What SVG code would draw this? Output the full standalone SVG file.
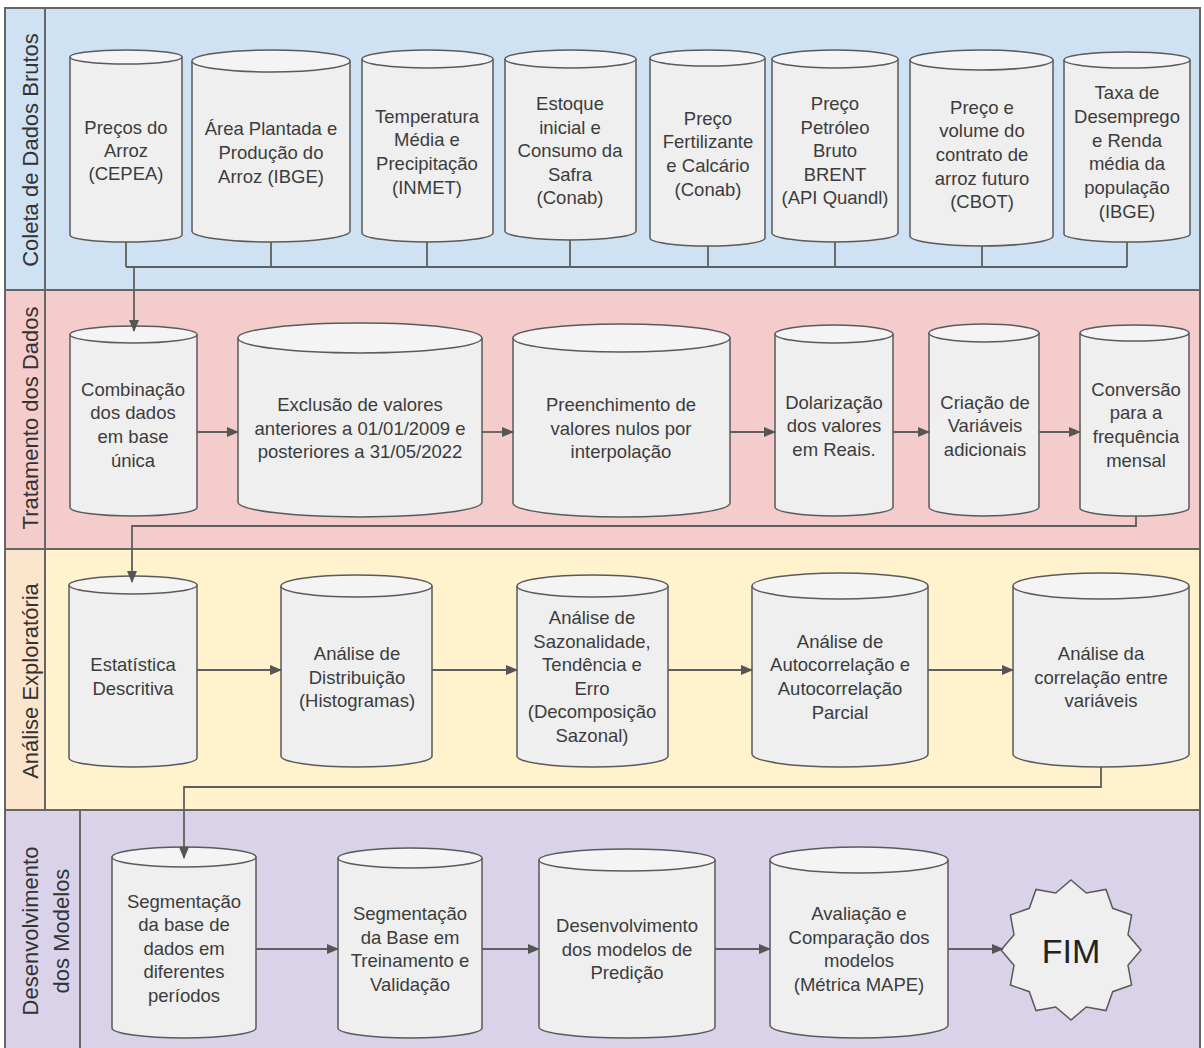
<svg xmlns="http://www.w3.org/2000/svg" width="1204" height="1048" viewBox="0 0 1204 1048">
<style>
.lane{stroke:#666;stroke-width:2}
.cyl{fill:#efefef;stroke:#5a5a5a;stroke-width:1.5}
.top{fill:#f4f4f4;stroke:#5a5a5a;stroke-width:1.5}
.t{font-family:"Liberation Sans",Arial,sans-serif;font-size:18.5px;fill:#3c3c3c;text-anchor:middle;dominant-baseline:central}
.lbl{font-family:"Liberation Sans",Arial,sans-serif;font-size:22px;fill:#333;text-anchor:middle;dominant-baseline:central}
.c{fill:none;stroke:#5f5f5f;stroke-width:1.8}
.a{fill:none;stroke:#5f5f5f;stroke-width:1.8;marker-end:url(#ah)}
</style>
<defs>
<marker id="ah" markerUnits="userSpaceOnUse" markerWidth="12" markerHeight="10" refX="11" refY="5" orient="auto">
<path d="M0,0 L12,5 L0,10 z" fill="#555"/>
</marker>
</defs>

<g id="lanes">
<rect class="lane" x="5" y="8" width="1195" height="282" fill="#cfe2f3"/>
<rect class="lane" x="5" y="290" width="1195" height="259" fill="#f4cccc"/>
<rect class="lane" x="5" y="549" width="1195" height="261" fill="#fff2cc"/>
<rect class="lane" x="5" y="549" width="40" height="261" fill="#fce5cd"/>
<rect class="lane" x="5" y="810" width="1195" height="245" fill="#d9d2e9"/>
<line class="lane" x1="45" y1="8" x2="45" y2="810"/>
<line class="lane" x1="80" y1="810" x2="80" y2="1048"/>
<text class="lbl" transform="translate(30,150) rotate(-90)">Coleta de Dados Brutos</text>
<text class="lbl" transform="translate(30,418) rotate(-90)">Tratamento dos Dados</text>
<text class="lbl" transform="translate(30,681) rotate(-90)">Análise Exploratória</text>
<text class="lbl" transform="translate(30,931) rotate(-90)">Desenvolvimento</text>
<text class="lbl" transform="translate(61,931) rotate(-90)">dos Modelos</text>
</g>

<g id="n1">
<path class="cyl" d="M70,57 V235 A56,7 0 0 0 182,235 V57"/><ellipse class="top" cx="126" cy="57" rx="56" ry="7"/>
<text class="t"><tspan x="126" y="127">Preços do</tspan><tspan x="126" y="150">Arroz</tspan><tspan x="126" y="173">(CEPEA)</tspan></text>
</g>
<g id="n2">
<path class="cyl" d="M192,61 V231 A79,11 0 0 0 350,231 V61"/><ellipse class="top" cx="271" cy="61" rx="79" ry="11"/>
<text class="t"><tspan x="271" y="128">Área Plantada e</tspan><tspan x="271" y="152">Produção do</tspan><tspan x="271" y="176">Arroz (IBGE)</tspan></text>
</g>
<g id="n3">
<path class="cyl" d="M362,59 V233 A65.5,9 0 0 0 493,233 V59"/><ellipse class="top" cx="427.5" cy="59" rx="65.5" ry="9"/>
<text class="t"><tspan x="427" y="116">Temperatura</tspan><tspan x="427" y="139">Média e</tspan><tspan x="427" y="163">Precipitação</tspan><tspan x="427" y="187">(INMET)</tspan></text>
</g>
<g id="n4">
<path class="cyl" d="M505,59 V231 A65.5,9 0 0 0 636,231 V59"/><ellipse class="top" cx="570.5" cy="59" rx="65.5" ry="9"/>
<text class="t"><tspan x="570" y="103">Estoque</tspan><tspan x="570" y="127">inicial e</tspan><tspan x="570" y="150">Consumo da</tspan><tspan x="570" y="174">Safra</tspan><tspan x="570" y="197">(Conab)</tspan></text>
</g>
<g id="n5">
<path class="cyl" d="M650,58 V238 A57.5,8 0 0 0 765,238 V58"/><ellipse class="top" cx="707.5" cy="58" rx="57.5" ry="8"/>
<text class="t"><tspan x="708" y="118">Preço</tspan><tspan x="708" y="141">Fertilizante</tspan><tspan x="708" y="165">e Calcário</tspan><tspan x="708" y="189">(Conab)</tspan></text>
</g>
<g id="n6">
<path class="cyl" d="M772,59 V233 A63,9 0 0 0 898,233 V59"/><ellipse class="top" cx="835" cy="59" rx="63" ry="9"/>
<text class="t"><tspan x="835" y="103">Preço</tspan><tspan x="835" y="127">Petróleo</tspan><tspan x="835" y="150">Bruto</tspan><tspan x="835" y="174">BRENT</tspan><tspan x="835" y="197">(API Quandl)</tspan></text>
</g>
<g id="n7">
<path class="cyl" d="M910,60 V236 A71.5,10 0 0 0 1053,236 V60"/><ellipse class="top" cx="981.5" cy="60" rx="71.5" ry="10"/>
<text class="t"><tspan x="982" y="107">Preço e</tspan><tspan x="982" y="130">volume do</tspan><tspan x="982" y="154">contrato de</tspan><tspan x="982" y="178">arroz futuro</tspan><tspan x="982" y="201">(CBOT)</tspan></text>
</g>
<g id="n8">
<path class="cyl" d="M1064,60 V234 A63,8 0 0 0 1190,234 V60"/><ellipse class="top" cx="1127" cy="60" rx="63" ry="8"/>
<text class="t"><tspan x="1127" y="92">Taxa de</tspan><tspan x="1127" y="116">Desemprego</tspan><tspan x="1127" y="140">e Renda</tspan><tspan x="1127" y="163">média da</tspan><tspan x="1127" y="187">população</tspan><tspan x="1127" y="211">(IBGE)</tspan></text>
</g>

<g id="n9">
<path class="cyl" d="M70,334.5 V507.5 A63.5,8.5 0 0 0 197,507.5 V334.5"/><ellipse class="top" cx="133.5" cy="334.5" rx="63.5" ry="8.5"/>
<text class="t"><tspan x="133" y="389">Combinação</tspan><tspan x="133" y="412">dos dados</tspan><tspan x="133" y="436">em base</tspan><tspan x="133" y="460">única</tspan></text>
</g>
<g id="n10">
<path class="cyl" d="M238,338 V502 A122,15 0 0 0 482,502 V338"/><ellipse class="top" cx="360" cy="338" rx="122" ry="15"/>
<text class="t"><tspan x="360" y="404">Exclusão de valores</tspan><tspan x="360" y="428">anteriores a 01/01/2009 e</tspan><tspan x="360" y="451">posteriores a 31/05/2022</tspan></text>
</g>
<g id="n11">
<path class="cyl" d="M513,338 V503 A108.5,14 0 0 0 730,503 V338"/><ellipse class="top" cx="621.5" cy="338" rx="108.5" ry="14"/>
<text class="t"><tspan x="621" y="404">Preenchimento de</tspan><tspan x="621" y="428">valores nulos por</tspan><tspan x="621" y="451">interpolação</tspan></text>
</g>
<g id="n12">
<path class="cyl" d="M775,334 V507 A59,9 0 0 0 893,507 V334"/><ellipse class="top" cx="834" cy="334" rx="59" ry="9"/>
<text class="t"><tspan x="834" y="402">Dolarização</tspan><tspan x="834" y="425">dos valores</tspan><tspan x="834" y="449">em Reais.</tspan></text>
</g>
<g id="n13">
<path class="cyl" d="M929,333 V507 A55,9 0 0 0 1039,507 V333"/><ellipse class="top" cx="984" cy="333" rx="55" ry="9"/>
<text class="t"><tspan x="985" y="402">Criação de</tspan><tspan x="985" y="425">Variáveis</tspan><tspan x="985" y="449">adicionais</tspan></text>
</g>
<g id="n14">
<path class="cyl" d="M1080,333 V508 A54.5,8 0 0 0 1189,508 V333"/><ellipse class="top" cx="1134.5" cy="333" rx="54.5" ry="8"/>
<text class="t"><tspan x="1136" y="389">Conversão</tspan><tspan x="1136" y="412">para a</tspan><tspan x="1136" y="436">frequência</tspan><tspan x="1136" y="460">mensal</tspan></text>
</g>

<g id="n15">
<path class="cyl" d="M69,585 V758 A64,9 0 0 0 197,758 V585"/><ellipse class="top" cx="133" cy="585" rx="64" ry="9"/>
<text class="t"><tspan x="133" y="664">Estatística</tspan><tspan x="133" y="688">Descritiva</tspan></text>
</g>
<g id="n16">
<path class="cyl" d="M281,586 V756 A75.5,11 0 0 0 432,756 V586"/><ellipse class="top" cx="356.5" cy="586" rx="75.5" ry="11"/>
<text class="t"><tspan x="357" y="653">Análise de</tspan><tspan x="357" y="677">Distribuição</tspan><tspan x="357" y="700">(Histogramas)</tspan></text>
</g>
<g id="n17">
<path class="cyl" d="M517,586 V756 A75.5,11 0 0 0 668,756 V586"/><ellipse class="top" cx="592.5" cy="586" rx="75.5" ry="11"/>
<text class="t"><tspan x="592" y="617">Análise de</tspan><tspan x="592" y="641">Sazonalidade,</tspan><tspan x="592" y="664">Tendência e</tspan><tspan x="592" y="688">Erro</tspan><tspan x="592" y="711">(Decomposição</tspan><tspan x="592" y="735">Sazonal)</tspan></text>
</g>
<g id="n18">
<path class="cyl" d="M752,586 V754 A88,13 0 0 0 928,754 V586"/><ellipse class="top" cx="840" cy="586" rx="88" ry="13"/>
<text class="t"><tspan x="840" y="641">Análise de</tspan><tspan x="840" y="664">Autocorrelação e</tspan><tspan x="840" y="688">Autocorrelação</tspan><tspan x="840" y="712">Parcial</tspan></text>
</g>
<g id="n19">
<path class="cyl" d="M1013,586 V754 A88,13 0 0 0 1189,754 V586"/><ellipse class="top" cx="1101" cy="586" rx="88" ry="13"/>
<text class="t"><tspan x="1101" y="653">Análise da</tspan><tspan x="1101" y="677">correlação entre</tspan><tspan x="1101" y="700">variáveis</tspan></text>
</g>

<g id="n20">
<path class="cyl" d="M112,857 V1028 A72,10 0 0 0 256,1028 V857"/><ellipse class="top" cx="184" cy="857" rx="72" ry="10"/>
<text class="t"><tspan x="184" y="901">Segmentação</tspan><tspan x="184" y="924">da base de</tspan><tspan x="184" y="948">dados em</tspan><tspan x="184" y="971">diferentes</tspan><tspan x="184" y="995">períodos</tspan></text>
</g>
<g id="n21">
<path class="cyl" d="M338,858 V1028 A72,10 0 0 0 482,1028 V858"/><ellipse class="top" cx="410" cy="858" rx="72" ry="10"/>
<text class="t"><tspan x="410" y="913">Segmentação</tspan><tspan x="410" y="937">da Base em</tspan><tspan x="410" y="960">Treinamento e</tspan><tspan x="410" y="984">Validação</tspan></text>
</g>
<g id="n22">
<path class="cyl" d="M539,860 V1027 A88,11 0 0 0 715,1027 V860"/><ellipse class="top" cx="627" cy="860" rx="88" ry="11"/>
<text class="t"><tspan x="627" y="925">Desenvolvimento</tspan><tspan x="627" y="949">dos modelos de</tspan><tspan x="627" y="972">Predição</tspan></text>
</g>
<g id="n23">
<path class="cyl" d="M770,860 V1025 A89,13 0 0 0 948,1025 V860"/><ellipse class="top" cx="859" cy="860" rx="89" ry="13"/>
<text class="t"><tspan x="859" y="913">Avaliação e</tspan><tspan x="859" y="937">Comparação dos</tspan><tspan x="859" y="960">modelos</tspan><tspan x="859" y="984">(Métrica MAPE)</tspan></text>
</g>
<g id="n24">
<polygon class="cyl" points="1071,880 1086.3,893 1106,889.4 1112.7,908.3 1131.6,915 1128,934.7 1141,950 1128,965.3 1131.6,985 1112.7,991.7 1106,1010.6 1086.3,1007 1071,1020 1055.7,1007 1036,1010.6 1029.3,991.7 1010.4,985 1014,965.3 1001,950 1014,934.7 1010.4,915 1029.3,908.3 1036,889.4 1055.7,893"/>
<text class="t" x="1071" y="951" style="font-size:34px;fill:#222">FIM</text>
</g>

<g id="connectors">
<path class="c" d="M126,242 V267 M271,242 V267 M427,242 V267 M570,240 V267 M708,246 V267 M835,242 V267 M982,246 V267 M1127,242 V267 M126,267 H1127"/>
<path class="a" d="M134,267 V331"/>
<path class="a" d="M197,432 H238"/>
<path class="a" d="M482,432 H513"/>
<path class="a" d="M730,432 H775"/>
<path class="a" d="M893,432 H929"/>
<path class="a" d="M1039,432 H1080"/>
<path class="a" d="M1136,516 V526 H132 V582"/>
<path class="a" d="M197,670 H281"/>
<path class="a" d="M432,670 H517"/>
<path class="a" d="M668,670 H752"/>
<path class="a" d="M928,670 H1013"/>
<path class="a" d="M1101,767 V787 H184 V858"/>
<path class="a" d="M256,949 H338"/>
<path class="a" d="M482,949 H539"/>
<path class="a" d="M715,949 H770"/>
<path class="a" d="M948,949 H1003"/>
</g>
</svg>
